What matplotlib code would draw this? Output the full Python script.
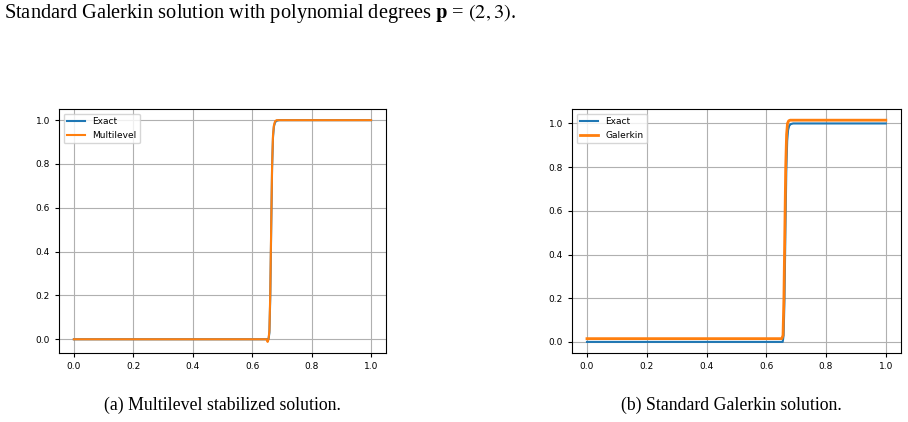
import matplotlib
matplotlib.use("Agg")
import matplotlib.pyplot as plt

plt.rcParams['mathtext.fontset'] = 'stix'

# exact solution (step near x = 2/3)
x_exact = [0.0, 0.650, 0.655, 0.658, 0.661, 0.664, 0.667, 0.670, 0.673, 0.677, 0.682, 0.690, 1.0]
y_exact = [0.0, 0.0, 0.0, 0.03, 0.2, 0.5, 0.78, 0.92, 0.97, 0.99, 0.997, 1.0, 1.0]

# multilevel stabilized solution
x_multi = [0.0, 0.648, 0.652, 0.655, 0.658, 0.661, 0.664, 0.667, 0.670, 0.673, 0.677, 0.682, 0.690, 1.0]
y_multi = [0.0, 0.0, -0.012, 0.0, 0.04, 0.22, 0.52, 0.79, 0.93, 0.975, 0.995, 1.0, 1.0, 1.0]

# standard Galerkin solution (slight overshoot)
x_gal = [0.0, 0.652, 0.656, 0.659, 0.662, 0.665, 0.668, 0.671, 0.675, 0.680, 0.688, 1.0]
y_gal = [0.015, 0.015, 0.03, 0.2, 0.5, 0.8, 0.95, 1.0, 1.012, 1.015, 1.015, 1.015]

xticks = [0.0, 0.2, 0.4, 0.6, 0.8, 1.0]
yticks = [0.0, 0.2, 0.4, 0.6, 0.8, 1.0]

fig = plt.figure(figsize=(9.08, 4.22), dpi=100)

ax1 = fig.add_axes([0.065, 0.1635, 0.360, 0.578])
ax2 = fig.add_axes([0.630, 0.1635, 0.362, 0.578])

ax1.plot(x_exact, y_exact, label="Exact", lw=1.5)
ax1.plot(x_multi, y_multi, label="Multilevel", lw=1.5)

ax2.plot(x_exact, y_exact, label="Exact", lw=1.5)
ax2.plot(x_gal, y_gal, label="Galerkin", lw=2.0)

for ax in (ax1, ax2):
    ax.set_xticks(xticks)
    ax.set_yticks(yticks)
    ax.set_xticklabels([f"{t:.1f}" for t in xticks])
    ax.set_yticklabels([f"{t:.1f}" for t in yticks])
    ax.tick_params(labelsize=6.5, length=3, width=0.8)
    ax.grid(True)
    ax.legend(loc="upper left", fontsize=6.5)

fig.text(0.004, 0.968,
         r"Standard Galerkin solution with polynomial degrees $\mathbf{p}$ = $(2, 3)$.",
         family="Liberation Serif", fontsize=14.7, va="center", ha="left")
fig.text(0.245, 0.04, "(a) Multilevel stabilized solution.",
         family="Liberation Serif", fontsize=12.8, va="center", ha="center")
fig.text(0.805, 0.04, "(b) Standard Galerkin solution.",
         family="Liberation Serif", fontsize=12.8, va="center", ha="center")

fig.savefig("out.png", dpi=100)
